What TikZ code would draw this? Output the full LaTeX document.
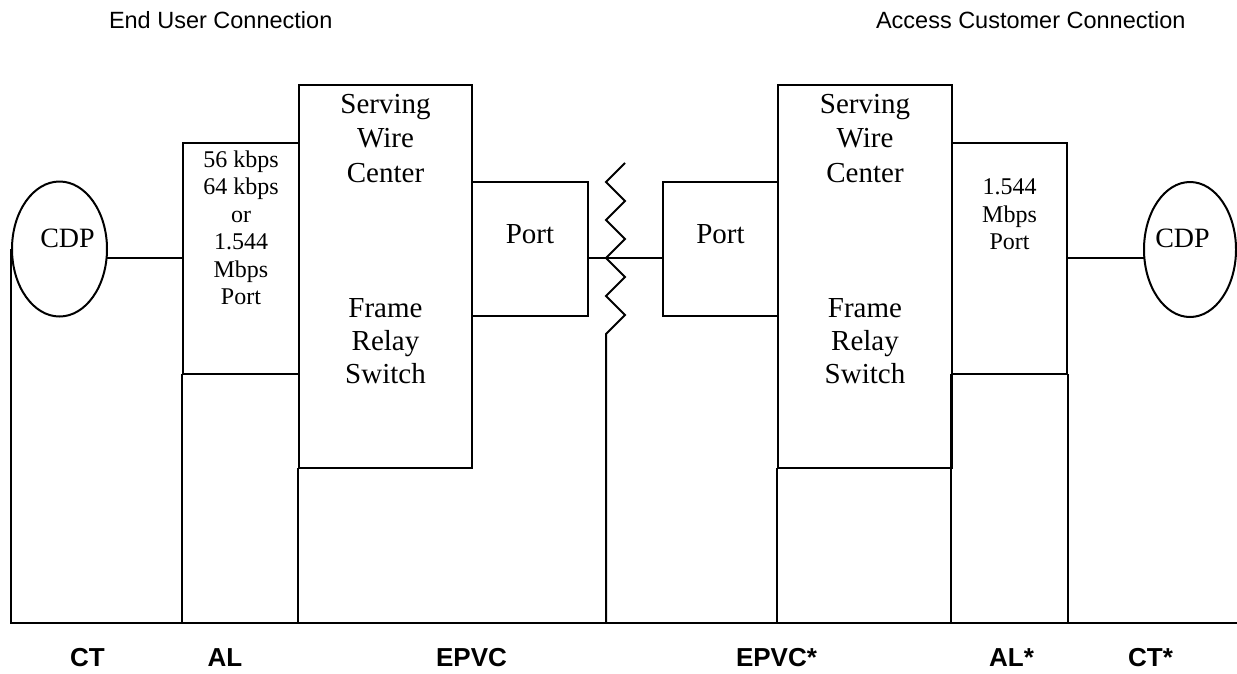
\documentclass[tikz,border=0pt]{standalone}
\usepackage{fontspec}
\setmainfont{Liberation Serif}
\newfontfamily\arialf{Liberation Sans}
\usetikzlibrary{shapes.geometric}
\begin{document}
\begin{tikzpicture}[x=1pt,y=-1pt,line width=2pt,line cap=rect,
  box/.style={draw,rectangle,inner sep=0pt,line width=2pt},
  cdp/.style={draw,ellipse,inner sep=0pt,minimum width=95pt,minimum height=135pt},
  ser/.style={font=\fontsize{29}{34}\selectfont,anchor=base,inner sep=0pt},
  sm/.style={font=\fontsize{24}{27}\selectfont,anchor=base,inner sep=0pt},
  hdr/.style={font=\arialf\fontsize{23.5}{28}\selectfont,anchor=base west,inner sep=0pt},
  lab/.style={font=\arialf\bfseries\fontsize{26}{30}\selectfont,anchor=base,inner sep=0pt}]
\useasboundingbox (0,0) rectangle (1237,673);

% shapes
\node[cdp] (cdpL) at (59.5,249) {};
\node[box,minimum width=116pt,minimum height=231pt] (alL) at (241,258.5) {};
\node[box,minimum width=173pt,minimum height=383pt] (swL) at (385.5,276.5) {};
\node[box,minimum width=116pt,minimum height=134pt] (portL) at (530,249) {};
\node[box,minimum width=115pt,minimum height=134pt] (portR) at (720.5,249) {};
\node[box,minimum width=174pt,minimum height=383pt] (swR) at (865,276.5) {};
\node[box,minimum width=115pt,minimum height=231pt] (alR) at (1009.5,258.5) {};
\node[cdp,minimum width=92pt] (cdpR) at (1190,249.5) {};

% connectors
\coordinate (mid) at (0,258);
\coordinate (bl) at (0,623);
\coordinate (br) at (1237,623);
\draw (cdpL.east |- mid) -- (alL.west |- mid);
\draw (portL.east |- mid) -- (portR.west |- mid);
\draw (alR.east |- mid) -- (cdpR.west |- mid);
\draw[line cap=butt] (cdpL.west) -- (cdpL.west |- bl) -- (br);
\draw (alL.south west) -- (alL.south west |- bl);
\draw (swL.south west) -- (swL.south west |- bl);
\draw (swR.south west) -- (swR.south west |- bl);
\draw (alR.south west) -- (alR.south west |- bl);
\draw (alR.south east) -- (alR.south east |- bl);

% zigzag break
\coordinate (zzb) at (606,623);
\coordinate (zzt) at (625,163);
\draw[line join=miter,line cap=butt] (zzb) -- (606,334) -- (625,315) -- (606,296) -- (625,277) -- (606,258)
  -- (625,239) -- (606,220) -- (625,201) -- (606,182) -- (zzt);

% texts in switches
\foreach \x/\n in {385.5/sL,865/sR}{
  \node[ser] (\n a) at (\x,113) {Serving};
  \node[ser] (\n b) at (\x,147.5) {Wire};
  \node[ser] (\n c) at (\x,182) {Center};
  \node[ser] (\n d) at (\x,317) {Frame};
  \node[ser] (\n e) at (\x,350) {Relay};
  \node[ser] (\n f) at (\x,383) {Switch};
}
\node[ser] (tpL) at (530,243) {Port};
\node[ser] (tpR) at (720.5,243) {Port};
\node[ser,font=\fontsize{28}{34}\selectfont] (tcL) at (67.5,247) {CDP};
\node[ser,font=\fontsize{28}{34}\selectfont] (tcR) at (1182.5,247) {CDP};

\node[sm] (a1) at (241,167) {56 kbps};
\node[sm] (a2) at (241,194.5) {64 kbps};
\node[sm] (a3) at (241,222) {or};
\node[sm] (a4) at (241,249) {1.544};
\node[sm] (a5) at (241,277) {Mbps};
\node[sm] (a6) at (241,304) {Port};
\node[sm] (b1) at (1009.5,194) {1.544};
\node[sm] (b2) at (1009.5,222) {Mbps};
\node[sm] (b3) at (1009.5,249) {Port};

% headers
\node[hdr] (h1) at (108,28) {End User Connection};
\node[hdr] (h2) at (875,28) {Access Customer Connection};

% bottom labels
\node[lab] (l1) at (87.5,666) {CT};
\node[lab] (l2) at (225,666) {AL};
\node[lab] (l3) at (471.5,666) {EPVC};
\node[lab] (l4) at (776.5,666) {EPVC*};
\node[lab] (l5) at (1011.5,666) {AL*};
\node[lab] (l6) at (1150.5,666) {CT*};
\end{tikzpicture}
\end{document}
